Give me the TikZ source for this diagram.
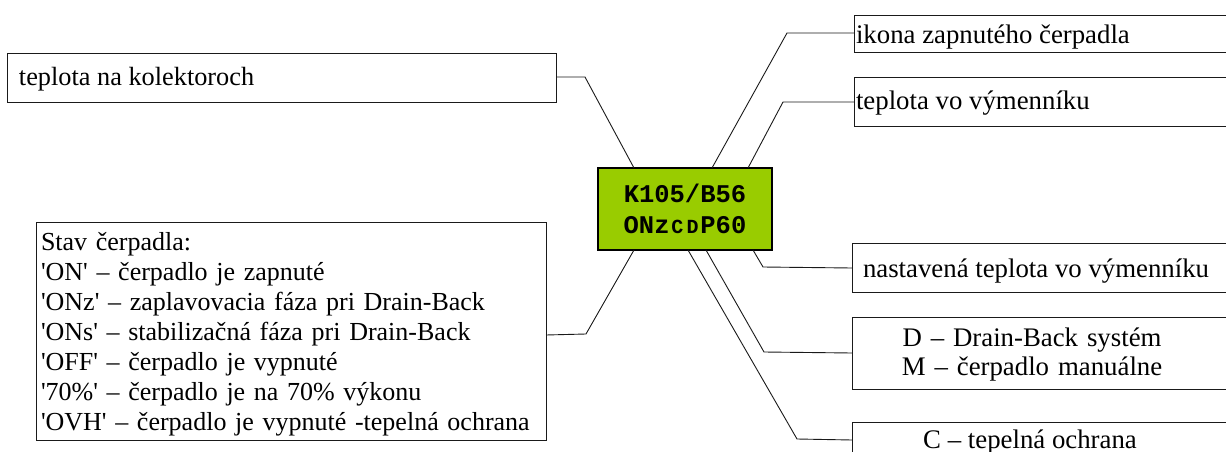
\documentclass[tikz,border=0pt]{standalone}
\usepackage{fontspec}
\setmainfont{Liberation Serif}
\newfontfamily\lcdfont{Liberation Mono}
\usetikzlibrary{calc}

\definecolor{lcdgreen}{HTML}{99CC00}
\definecolor{edge}{HTML}{1A1A1A}

\newcommand{\lcdsmall}[1]{\makebox[15.4pt]{\fontsize{20}{20}\selectfont\bfseries #1}}
\newcommand{\sq}{\textquotesingle}

\begin{document}
\begin{tikzpicture}[x=1pt,y=-1pt,
  every node/.style={inner sep=0pt, outer sep=0pt},
  box/.style={draw=edge, line width=0.9pt, anchor=north west},
  txt/.style={font=\fontsize{26.8}{28}\selectfont, text=black},
  lcd/.style={draw=black, line width=2.4pt, fill=lcdgreen,
    minimum width=174pt, minimum height=82pt,
    font=\lcdfont\bfseries\fontsize{25.5}{31}\selectfont, align=center},
  wire/.style={draw=edge, line width=0.9pt}
]
\useasboundingbox (0,0) rectangle (1226,452);
\clip (0,0) rectangle (1226,452);

% display module
\node[lcd] (disp) at (685,209) {K105/B56\\ONz\lcdsmall{C}\lcdsmall{D}P60};

% callout boxes
\node[box, minimum width=549pt, minimum height=49pt] (kol) at (7,53) {};
\node[txt, anchor=base west, font=\fontsize{26.3}{28}\selectfont]
  at ([shift={(12,32)}]kol.north west) {teplota na kolektoroch};

\node[box, minimum width=400pt, minimum height=37pt] (ikona) at (854,15) {};
\node[txt, anchor=base west] at ([shift={(2,29)}]ikona.north west) {ikona zapnutého čerpadla};

\node[box, minimum width=400pt, minimum height=49pt] (vym) at (854,77) {};
\node[txt, anchor=base west] at ([shift={(2,33)}]vym.north west) {teplota vo výmenníku};

\node[box, minimum width=400pt, minimum height=49pt] (nast) at (852,243) {};
\node[txt, anchor=base west] at ([shift={(11,34)}]nast.north west) {nastavená teplota vo výmenníku};

\node[box, minimum width=400pt, minimum height=72pt] (dm) at (852,317) {};
\node[txt, anchor=base, align=center, text width=380pt, font=\fontsize{26.8}{29}\selectfont]
  at ([shift={(180,29)}]dm.north west) {D – Drain-Back systém\\M – čerpadlo manuálne};

\node[box, minimum width=400pt, minimum height=60pt] (ochr) at (852,422) {};
\node[txt, anchor=base] at ([shift={(178,26)}]ochr.north west) {C – tepelná ochrana};

\node[box, minimum width=510pt, minimum height=218pt] (stav) at (36,222) {};
\node[txt, anchor=base west, align=left, text width=505pt, font=\fontsize{26}{30}\selectfont]
  at ([shift={(5,28)}]stav.north west)
  {Stav čerpadla:\\
   \sq ON\sq{} – čerpadlo je zapnuté\\
   \sq ONz\sq{} – zaplavovacia fáza pri Drain-Back\\
   \sq ONs\sq{} – stabilizačná fáza pri Drain-Back\\
   \sq OFF\sq{} – čerpadlo je vypnuté\\
   \sq 70\%\sq{} – čerpadlo je na 70\% výkonu\\
   \sq OVH\sq{} – čerpadlo je vypnuté -tepelná ochrana};

% leader lines
\draw[wire] (kol.east |- 0,77) -- ++(29,0) -- ([xshift=36pt]disp.north west);
\draw[wire] (ikona.west |- 0,33) -- ++(-67,0) -- ([xshift=114pt]disp.north west);
\draw[wire] (vym.west |- 0,102) -- ++(-71,0) -- ([xshift=150pt]disp.north west);
\draw[wire] ([xshift=155pt]disp.south west) -- ++(10,17) -- (nast.west |- 0,268);
\draw[wire] ([xshift=108pt]disp.south west) -- ++(58,102) -- (dm.west |- 0,353);
\draw[wire] ([xshift=90pt]disp.south west) -- ++(109,189) -- (ochr.west |- 0,440);
\draw[wire] ([xshift=36pt]disp.south west) -- ++(-48,84) -- (stav.east |- 0,335);
\end{tikzpicture}
\end{document}
